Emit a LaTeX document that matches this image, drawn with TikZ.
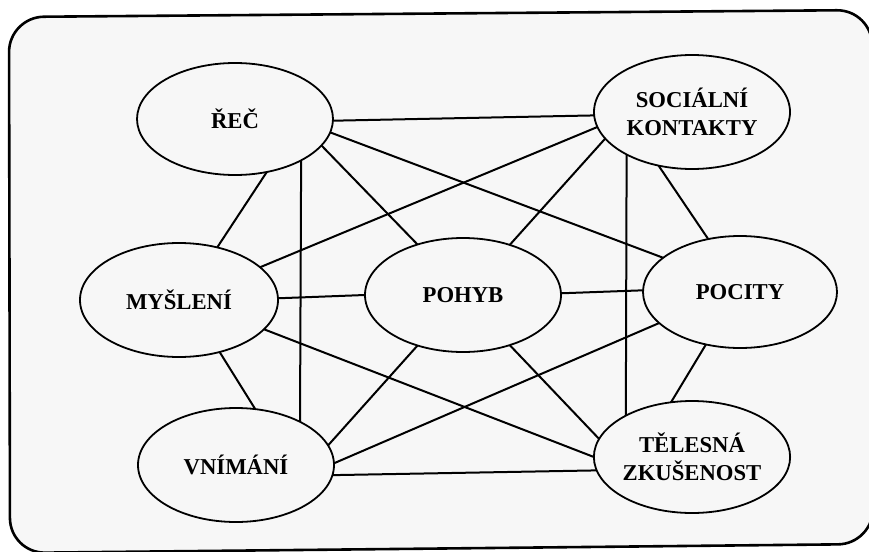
\documentclass[tikz,border=0pt]{standalone}
\usepackage{fontspec}
\setmainfont{Liberation Serif}
\usetikzlibrary{shapes.geometric}
\begin{document}
\begin{tikzpicture}[x=1pt,y=-1pt,
  bubble/.style={ellipse, draw=black, line width=1.8, inner sep=0pt, outer sep=0pt,
    minimum width=196, minimum height=113, align=center,
    font=\bfseries\fontsize{22.7}{28}\selectfont},
  link/.style={draw=black, line width=2},
  frame/.style={draw=black, line width=2.6, rounded corners=35, fill=black!3}]
\useasboundingbox (0,0) rectangle (869,551);
\fill[white] (0,0) rectangle (869,551);
\path[frame] (440,13.5) -- (872,10) -- (873,544) -- (10,553) -- (9,17) -- cycle;

\node[bubble, minimum height=112] (rec) at (235,119) {ŘEČ};
\node[bubble, minimum height=114] (soc) at (692,112) {SOCIÁLNÍ\\KONTAKTY};
\node[bubble, minimum width=198, minimum height=114] (mys) at (179,300) {MYŠLENÍ};
\node[bubble, minimum height=114] (poh) at (463,295) {POHYB};
\node[bubble, minimum width=194, minimum height=112] (poc) at (740,292) {POCITY};
\node[bubble, minimum height=114] (vni) at (236,465) {VNÍMÁNÍ};
\node[bubble, minimum height=112] (tel) at (692,457) {TĚLESNÁ\\ZKUŠENOST};

\draw[link] (rec.-1) -- (soc.182);
\draw[link] (rec.-8.4) -- (poc.156.4);
\draw[link] (rec.-17.1) -- (poh.132.6);
\draw[link] (rec.-32.7) -- (vni.34.3);
\draw[link] (rec.-59.3) -- (mys.54.2);

\draw[link] (soc.189.4) -- (mys.22.9);
\draw[link] (soc.197.5) -- (poh.47.9);
\draw[link] (soc.213.5) -- (tel.148.3);
\draw[link] (soc.238.3) -- (poc.121.4);

\draw[link] (mys.1.7) -- (poh.180);
\draw[link] (mys.-19.7) -- (tel.180.6);
\draw[link] (mys.-52.3) -- (vni.71.6);

\draw[link] (poh.1.8) -- (poc.179.4);
\draw[link] (poh.228.5) -- (vni.12);
\draw[link] (poh.-47.9) -- (tel.169.9);

\draw[link] (poc.201.2) -- (vni.1.7);
\draw[link] (poc.237.5) -- (tel.111.8);

\draw[link] (vni.-6.5) -- (tel.188.6);
\end{tikzpicture}
\end{document}
